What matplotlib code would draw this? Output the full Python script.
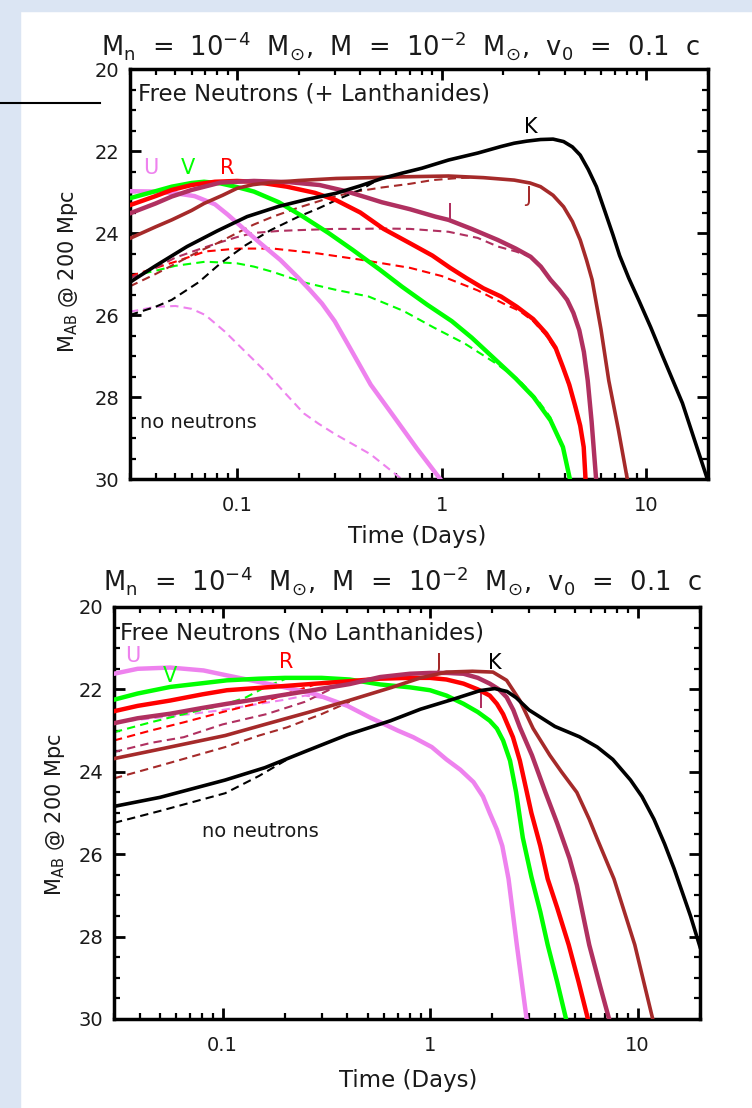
import matplotlib
matplotlib.use("Agg")
import matplotlib.pyplot as plt
from matplotlib.patches import Rectangle
from matplotlib.lines import Line2D
from matplotlib.ticker import LogLocator, NullFormatter, MultipleLocator

# ---------------- data: top panel (free neutrons + lanthanides) ----------------
top_U_t = [0.03, 0.04, 0.05, 0.062, 0.078, 0.09, 0.108, 0.13, 0.163, 0.2, 0.227, 0.26, 0.3, 0.356, 0.45, 0.569, 0.755, 1.0]
top_U_m = [22.98, 22.99, 23.03, 23.1, 23.3, 23.55, 23.9, 24.25, 24.66, 25.1, 25.39, 25.72, 26.15, 26.8, 27.7, 28.4, 29.25, 30.05]
top_Ud_t = [0.03, 0.04, 0.05, 0.06, 0.07, 0.087, 0.11, 0.139, 0.175, 0.212, 0.25, 0.3, 0.45, 0.655]
top_Ud_m = [25.92, 25.8, 25.78, 25.85, 26.0, 26.4, 26.9, 27.4, 27.95, 28.4, 28.65, 28.9, 29.4, 30.05]

top_V_t = [0.03, 0.04, 0.048, 0.06, 0.069, 0.083, 0.1, 0.121, 0.16, 0.21, 0.28, 0.367, 0.5, 0.64, 0.85, 1.12, 1.4, 1.84, 2.3, 2.81, 3.4, 3.91, 4.25]
top_V_m = [23.15, 22.98, 22.87, 22.78, 22.75, 22.79, 22.88, 22.99, 23.25, 23.6, 24.0, 24.41, 24.9, 25.31, 25.75, 26.15, 26.55, 27.1, 27.55, 28.0, 28.57, 29.22, 30.05]
top_Vd_t = [0.03, 0.04, 0.05, 0.07, 0.1, 0.121, 0.15, 0.21, 0.3, 0.44, 0.65, 0.91, 1.3, 1.84, 2.4, 2.95, 3.4, 3.7, 4.0, 4.25]
top_Vd_m = [25.06, 24.92, 24.8, 24.7, 24.74, 24.82, 24.95, 25.2, 25.38, 25.55, 25.9, 26.3, 26.7, 27.18, 27.6, 28.08, 28.5, 28.98, 29.4, 30.05]

top_R_t = [0.03, 0.04, 0.048, 0.06, 0.078, 0.1, 0.121, 0.175, 0.24, 0.305, 0.4, 0.52, 0.7, 0.9, 1.1, 1.32, 1.6, 1.95, 2.33, 2.8, 3.24, 3.6, 3.91, 4.2, 4.5, 4.75, 4.94, 5.05]
top_R_m = [23.32, 23.1, 22.95, 22.83, 22.75, 22.73, 22.75, 22.87, 23.02, 23.2, 23.5, 23.9, 24.25, 24.55, 24.85, 25.1, 25.35, 25.55, 25.8, 26.1, 26.45, 26.8, 27.27, 27.7, 28.24, 28.7, 29.22, 30.05]
top_Rd_t = [0.03, 0.04, 0.05, 0.07, 0.1, 0.15, 0.25, 0.4, 0.7, 1.0, 1.5, 2.0, 2.4, 2.8, 3.24, 3.6, 3.91, 4.2, 4.5, 4.75, 4.94, 5.05]
top_Rd_m = [25.05, 24.85, 24.7, 24.45, 24.38, 24.38, 24.5, 24.65, 24.85, 25.05, 25.4, 25.72, 25.9, 26.15, 26.5, 26.85, 27.3, 27.75, 28.3, 28.75, 29.25, 30.05]

top_I_t = [0.03, 0.04, 0.048, 0.06, 0.083, 0.121, 0.18, 0.253, 0.34, 0.44, 0.51, 0.7, 0.93, 1.08, 1.4, 1.88, 2.3, 2.72, 3.05, 3.4, 3.75, 4.1, 4.4, 4.7, 4.95, 5.17, 5.4, 5.69]
top_I_m = [23.52, 23.28, 23.11, 22.95, 22.77, 22.73, 22.76, 22.83, 22.98, 23.15, 23.25, 23.42, 23.6, 23.68, 23.9, 24.17, 24.38, 24.58, 24.82, 25.14, 25.38, 25.63, 25.95, 26.37, 26.9, 27.6, 28.6, 30.05]
top_Id_t = [0.03, 0.04, 0.05, 0.065, 0.08, 0.1, 0.12, 0.16, 0.2, 0.3, 0.4, 0.51, 0.7, 1.08, 1.5, 1.88, 2.3, 2.72]
top_Id_m = [25.1, 24.85, 24.6, 24.4, 24.25, 24.1, 24.0, 23.95, 23.93, 23.9, 23.9, 23.89, 23.9, 23.97, 24.12, 24.33, 24.45, 24.58]

top_J_t = [0.03, 0.04, 0.048, 0.06, 0.069, 0.085, 0.1, 0.12, 0.146, 0.2, 0.305, 0.45, 0.64, 1.08, 1.6, 2.26, 2.7, 3.04, 3.5, 3.94, 4.35, 4.75, 5.1, 5.43, 6.0, 6.55, 7.3, 8.1]
top_J_m = [24.13, 23.85, 23.68, 23.45, 23.28, 23.08, 22.91, 22.82, 22.77, 22.72, 22.67, 22.65, 22.63, 22.61, 22.65, 22.71, 22.78, 22.87, 23.08, 23.36, 23.72, 24.17, 24.66, 25.14, 26.35, 27.6, 28.8, 30.05]
top_Jd_t = [0.03, 0.04, 0.05, 0.065, 0.08, 0.1, 0.12, 0.15, 0.2, 0.28, 0.37, 0.51, 0.7, 0.9, 1.2, 1.5]
top_Jd_m = [25.3, 25.0, 24.75, 24.45, 24.25, 24.0, 23.8, 23.6, 23.38, 23.15, 23.0, 22.89, 22.8, 22.71, 22.66, 22.64]

top_K_t = [0.03, 0.04, 0.057, 0.08, 0.112, 0.16, 0.22, 0.305, 0.4, 0.51, 0.64, 0.8, 1.08, 1.5, 1.95, 2.26, 2.6, 3.04, 3.5, 3.94, 4.35, 4.75, 5.2, 5.7, 6.3, 6.87, 7.4, 8.2, 9.2, 10.5, 12.0, 15.0, 20.0]
top_K_m = [25.2, 24.8, 24.33, 23.95, 23.6, 23.35, 23.18, 23.03, 22.85, 22.67, 22.54, 22.42, 22.22, 22.05, 21.89, 21.81, 21.76, 21.72, 21.71, 21.77, 21.9, 22.1, 22.45, 22.87, 23.5, 24.05, 24.55, 25.1, 25.65, 26.3, 27.0, 28.15, 30.05]
top_Kd_t = [0.03, 0.04, 0.048, 0.065, 0.083, 0.11, 0.146, 0.2, 0.25, 0.32, 0.4, 0.47]
top_Kd_m = [26.0, 25.8, 25.63, 25.2, 24.74, 24.3, 23.93, 23.6, 23.4, 23.15, 22.95, 22.75]

# ---------------- data: bottom panel (free neutrons, no lanthanides) ----------------
bot_U_t = [0.03, 0.039, 0.056, 0.081, 0.105, 0.15, 0.2, 0.282, 0.4, 0.513, 0.7, 0.83, 1.02, 1.2, 1.4, 1.62, 1.8, 1.94, 2.1, 2.23, 2.39, 2.62, 2.93]
bot_U_m = [21.62, 21.5, 21.47, 21.54, 21.66, 21.82, 21.95, 22.12, 22.4, 22.68, 23.0, 23.16, 23.4, 23.7, 23.95, 24.25, 24.6, 25.0, 25.4, 25.8, 26.6, 28.2, 30.05]
bot_Ud_t = [0.03, 0.05, 0.07, 0.1, 0.15, 0.2, 0.25, 0.32]
bot_Ud_m = [22.8, 22.68, 22.6, 22.5, 22.35, 22.25, 22.15, 22.22]

bot_V_t = [0.03, 0.039, 0.056, 0.08, 0.105, 0.15, 0.2, 0.3, 0.41, 0.575, 0.8, 1.0, 1.2, 1.45, 1.7, 1.94, 2.1, 2.25, 2.43, 2.6, 2.8, 3.08, 3.4, 3.69, 4.1, 4.55]
bot_V_m = [22.25, 22.1, 21.94, 21.85, 21.78, 21.74, 21.72, 21.72, 21.76, 21.88, 21.95, 22.02, 22.15, 22.35, 22.55, 22.76, 22.95, 23.24, 23.73, 24.5, 25.6, 26.55, 27.4, 28.2, 29.1, 30.05]
bot_Vd_t = [0.03, 0.045, 0.065, 0.1, 0.129, 0.16, 0.2]
bot_Vd_m = [23.04, 22.8, 22.6, 22.38, 22.2, 21.95, 21.75]

bot_R_t = [0.03, 0.039, 0.056, 0.08, 0.105, 0.163, 0.25, 0.41, 0.575, 0.8, 1.0, 1.2, 1.45, 1.7, 1.94, 2.1, 2.25, 2.51, 2.71, 2.9, 3.08, 3.4, 3.69, 4.1, 4.66, 5.2, 5.8]
bot_R_m = [22.53, 22.4, 22.27, 22.12, 22.02, 21.95, 21.88, 21.8, 21.74, 21.72, 21.72, 21.76, 21.86, 22.0, 22.15, 22.35, 22.6, 23.16, 23.73, 24.4, 25.0, 25.8, 26.6, 27.3, 28.2, 29.1, 30.05]
bot_Rd_t = [0.03, 0.045, 0.065, 0.1, 0.163, 0.22, 0.28]
bot_Rd_m = [23.24, 23.0, 22.8, 22.55, 22.28, 22.05, 21.88]

bot_I_t = [0.03, 0.039, 0.056, 0.08, 0.105, 0.163, 0.25, 0.41, 0.575, 0.8, 1.0, 1.2, 1.45, 1.7, 1.94, 2.15, 2.34, 2.52, 2.71, 3.1, 3.6, 4.1, 4.7, 5.1, 5.85, 6.6, 7.34]
bot_I_m = [22.82, 22.7, 22.59, 22.45, 22.35, 22.2, 22.05, 21.87, 21.7, 21.62, 21.6, 21.6, 21.62, 21.72, 21.86, 22.0, 22.19, 22.5, 22.92, 23.6, 24.5, 25.25, 26.1, 26.75, 28.2, 29.2, 30.05]
bot_Id_t = [0.03, 0.045, 0.065, 0.1, 0.163, 0.25, 0.33]
bot_Id_m = [23.52, 23.3, 23.16, 22.85, 22.6, 22.3, 22.0]

bot_J_t = [0.03, 0.05, 0.103, 0.16, 0.258, 0.4, 0.646, 0.9, 1.2, 1.6, 2.01, 2.34, 2.71, 3.14, 3.78, 4.3, 5.1, 5.85, 6.42, 7.7, 9.7, 11.9]
bot_J_m = [23.68, 23.45, 23.12, 22.85, 22.56, 22.28, 21.96, 21.72, 21.58, 21.56, 21.58, 21.78, 22.27, 22.95, 23.6, 24.0, 24.5, 25.15, 25.65, 26.6, 28.2, 30.05]
bot_Jd_t = [0.03, 0.05, 0.103, 0.15, 0.205, 0.3, 0.41]
bot_Jd_m = [24.16, 23.85, 23.4, 23.12, 22.92, 22.6, 22.3]

bot_K_t = [0.03, 0.05, 0.103, 0.16, 0.258, 0.4, 0.646, 0.9, 1.29, 1.74, 2.05, 2.35, 2.6, 3.0, 4.0, 5.25, 6.4, 7.6, 9.25, 10.5, 12.0, 13.5, 15.0, 16.5, 18.0, 20.0]
bot_K_m = [24.84, 24.62, 24.2, 23.9, 23.48, 23.1, 22.76, 22.48, 22.24, 22.03, 21.98, 22.05, 22.2, 22.5, 22.9, 23.15, 23.4, 23.7, 24.2, 24.6, 25.15, 25.75, 26.35, 26.95, 27.5, 28.25]
bot_Kd_t = [0.03, 0.05, 0.103, 0.15, 0.205]
bot_Kd_m = [25.24, 24.95, 24.52, 24.1, 23.7]

band_names = ["U", "V", "R", "I", "J", "K"]
band_colors = ["#EE82EE", "#00FF00", "#FF0000", "#B03060", "#A52A2A", "#000000"]

title_text = r"M$_{\rm n}$  =  10$^{-4}$  M$_{\odot}$,  M  =  10$^{-2}$  M$_{\odot}$,  v$_{0}$  =  0.1  c"
ylabel_text = r"M$_{\rm AB}$ @ 200 Mpc"
xlabel_text = "Time (Days)"

# ---------------- figure ----------------
W, H = 752, 1108
fig = plt.figure(figsize=(W / 100, H / 100), dpi=100)
fig.patch.set_facecolor("white")
fig.add_artist(Rectangle((0, 0), 20 / W, 1, transform=fig.transFigure, color="#dbe5f3", zorder=0))
fig.add_artist(Rectangle((0, 1 - 11 / H), 1, 11 / H, transform=fig.transFigure, color="#dbe5f3", zorder=0))
fig.add_artist(Line2D([0, 100 / W], [1 - 103 / H, 1 - 103 / H], transform=fig.transFigure, color="black", lw=1.5))

TXT = "#1a1a1a"


def px_axes(l, t, r, b):
    return fig.add_axes([l / W, 1 - b / H, (r - l) / W, (b - t) / H])


def style(ax):
    ax.set_xscale("log")
    ax.set_xlim(0.03, 20)
    ax.set_ylim(30, 20)
    ax.set_xticks([0.1, 1, 10])
    ax.set_xticklabels(["0.1", "1", "10"])
    ax.xaxis.set_minor_locator(LogLocator(base=10, subs=[2, 3, 4, 5, 6, 7, 8, 9]))
    ax.xaxis.set_minor_formatter(NullFormatter())
    ax.set_yticks([20, 22, 24, 26, 28, 30])
    ax.yaxis.set_minor_locator(MultipleLocator(0.5))
    ax.tick_params(which="both", direction="in", top=True, right=True, colors="black", labelcolor=TXT)
    ax.tick_params(which="major", length=8, width=2, labelsize=14)
    ax.tick_params(axis="x", which="major", pad=12)
    ax.tick_params(axis="y", which="major", pad=8)
    ax.tick_params(which="minor", length=4, width=1.6)
    for s in ax.spines.values():
        s.set_linewidth(2.5)


def draw(ax, solids, dashes):
    for (t, m), c in zip(dashes, band_colors):
        ax.plot(t, m, color=c, lw=1.5, ls=(0, (4, 2.5)), zorder=2)
    for i, ((t, m), c) in enumerate(zip(solids, band_colors)):
        ax.plot(t, m, color=c, lw=3.2 if i < 4 else 2.6, zorder=3 + i * 0.1, solid_joinstyle="round")


# top panel
ax1 = px_axes(130, 69, 708, 479)
style(ax1)
draw(ax1,
     [(top_U_t, top_U_m), (top_V_t, top_V_m), (top_R_t, top_R_m), (top_I_t, top_I_m), (top_J_t, top_J_m), (top_K_t, top_K_m)],
     [(top_Ud_t, top_Ud_m), (top_Vd_t, top_Vd_m), (top_Rd_t, top_Rd_m), (top_Id_t, top_Id_m), (top_Jd_t, top_Jd_m), (top_Kd_t, top_Kd_m)])
ax1.text(0.033, 20.6, "Free Neutrons (+ Lanthanides)", fontsize=16.5, color=TXT, va="center", ha="left")
ax1.text(0.0335, 28.62, "no neutrons", fontsize=14, color=TXT, va="center", ha="left")
top_label_pos = [(0.038, 22.42), (0.0575, 22.42), (0.09, 22.42), (1.1, 23.52), (2.65, 23.1), (2.72, 21.41)]
for (x, y), n, c in zip(top_label_pos, band_names, band_colors):
    ax1.text(x, y, n, color=c, fontsize=15, ha="center", va="center")

# bottom panel
ax2 = px_axes(114, 607, 700, 1019)
style(ax2)
draw(ax2,
     [(bot_U_t, bot_U_m), (bot_V_t, bot_V_m), (bot_R_t, bot_R_m), (bot_I_t, bot_I_m), (bot_J_t, bot_J_m), (bot_K_t, bot_K_m)],
     [(bot_Ud_t, bot_Ud_m), (bot_Vd_t, bot_Vd_m), (bot_Rd_t, bot_Rd_m), (bot_Id_t, bot_Id_m), (bot_Jd_t, bot_Jd_m), (bot_Kd_t, bot_Kd_m)])
ax2.text(0.032, 20.62, "Free Neutrons (No Lanthanides)", fontsize=16.5, color=TXT, va="center", ha="left")
ax2.text(0.08, 25.45, "no neutrons", fontsize=14, color=TXT, va="center", ha="left")
bot_label_pos = [(0.0368, 21.2), (0.056, 21.68), (0.203, 21.33), (1.77, 22.3), (1.1, 21.35), (2.05, 21.35)]
for (x, y), n, c in zip(bot_label_pos, band_names, band_colors):
    ax2.text(x, y, n, color=c, fontsize=15, ha="center", va="center")

# titles and axis labels
fig.text(400 / W, 1 - 46 / H, title_text, fontsize=18.5, color=TXT, ha="center", va="center")
fig.text(402 / W, 1 - 581 / H, title_text, fontsize=18.5, color=TXT, ha="center", va="center")
fig.text(68 / W, 1 - 272 / H, ylabel_text, fontsize=15, color=TXT, rotation=90, ha="center", va="center")
fig.text(55 / W, 1 - 815 / H, ylabel_text, fontsize=15, color=TXT, rotation=90, ha="center", va="center")
fig.text(417 / W, 1 - 537 / H, xlabel_text, fontsize=16.5, color=TXT, ha="center", va="center")
fig.text(408 / W, 1 - 1080 / H, xlabel_text, fontsize=16.5, color=TXT, ha="center", va="center")

fig.savefig("out.png", dpi=100, facecolor=fig.get_facecolor())
